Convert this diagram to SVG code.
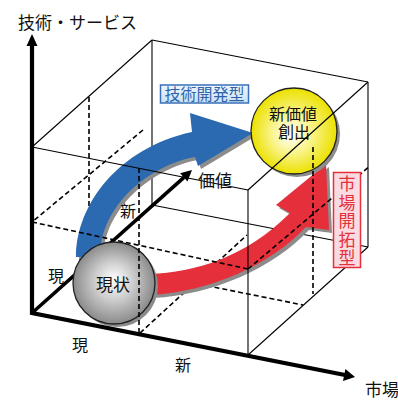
<svg xmlns="http://www.w3.org/2000/svg" width="398" height="400" viewBox="0 0 398 400">
<defs>
<style>
.t{font-family:"Noto Sans CJK JP","Noto Sans CJK SC",sans-serif;fill:#111;}
.ln{stroke:#000;stroke-width:1.1;fill:none;}
.ds{stroke:#000;stroke-width:1.6;fill:none;stroke-dasharray:5 3;}
.sh{fill:#8c8c8c;}
.ol{stroke:#222;stroke-width:1.3;}
</style>
<radialGradient id="gGray" cx="0.5" cy="0.5" r="0.5" fx="0.5" fy="0.45">
<stop offset="0" stop-color="#ffffff"/>
<stop offset="0.45" stop-color="#cfcfcf"/>
<stop offset="1" stop-color="#8a8a8a"/>
</radialGradient>
<radialGradient id="gYel" cx="0.5" cy="0.5" r="0.5" fx="0.45" fy="0.55">
<stop offset="0" stop-color="#ffffff"/>
<stop offset="0.4" stop-color="#fbf69c"/>
<stop offset="1" stop-color="#ebe100"/>
</radialGradient>
<linearGradient id="gBlueBox" x1="0" y1="0" x2="0" y2="1">
<stop offset="0" stop-color="#eef6fd"/>
<stop offset="1" stop-color="#c9e1f6"/>
</linearGradient>
</defs>
<rect width="398" height="400" fill="#ffffff"/>

<g id="box-back">
<line class="ln" x1="32" y1="147" x2="152" y2="40"/>
<line class="ln" x1="152" y1="40" x2="368" y2="82"/>
<line class="ln" x1="152" y1="40" x2="152" y2="205"/>
<line class="ln" x1="368" y1="82" x2="368" y2="247"/>
<line class="ln" x1="152" y1="205" x2="368" y2="247"/>
<line class="ln" x1="248" y1="355" x2="368" y2="247"/>
</g>

<g id="dashes-back">
<line class="ds" x1="89" y1="97" x2="89" y2="262"/>
<line class="ds" x1="143" y1="130" x2="32" y2="222"/>
<line class="ds" x1="140" y1="333" x2="247" y2="235"/>
<line class="ds" x1="89" y1="262" x2="303" y2="305"/>
</g>

<g id="arrow-tech">
<path class="sh" transform="translate(3,3)" d="M76,257 C76,205 118,148 192,132 L190,113 L253,133 L198,166 L195,157 C150,165 100,205 100,257 Z"/>
<path fill="#2b69b1" d="M76,257 C76,205 118,148 192,132 L190,113 L253,133 L198,166 L195,157 C150,165 100,205 100,257 Z"/>
</g>

<g id="arrow-market">
<path class="sh" transform="translate(3,3)" d="M150,274 C195,272 245,258 290,213 L276,205 L326,164 L329,230 L306,227 C270,265 210,292 150,295 Z"/>
<path fill="#e5303b" d="M150,274 C195,272 245,258 290,213 L276,205 L326,164 L329,230 L306,227 C270,265 210,292 150,295 Z"/>
</g>

<g id="axis-value">
<line x1="32" y1="313" x2="184" y2="177.3" stroke="#000" stroke-width="3.6"/>
<polygon points="192,170 187.5,181.4 180.1,173.2" fill="#000"/>
</g>

<g id="node-current">
<circle class="sh" cx="117" cy="286" r="41"/>
<circle class="ol" cx="114" cy="283" r="41" fill="url(#gGray)"/>
<text class="t" x="113" y="291" font-size="17" text-anchor="middle">現状</text>
</g>

<g id="node-new-value">
<circle class="sh" cx="297" cy="134" r="43"/>
<circle class="ol" cx="294" cy="131" r="43" fill="url(#gYel)"/>
<text class="t" font-size="16" text-anchor="middle"><tspan x="293" y="120">新価値</tspan><tspan x="294" y="138">創出</tspan></text>
</g>

<g id="box-front">
<line class="ln" x1="32" y1="147" x2="248" y2="190"/>
<line class="ln" x1="248" y1="190" x2="248" y2="355"/>
<line class="ln" x1="248" y1="190" x2="368" y2="82"/>
</g>

<g id="dashes-front">
<line class="ds" x1="32" y1="222" x2="248" y2="269"/>
<line class="ds" x1="139" y1="168" x2="139" y2="333"/>
<line class="ds" x1="248" y1="269" x2="370" y2="166"/>
<line class="ds" x1="313" y1="147" x2="313" y2="294"/>
</g>

<g id="axes">
<path d="M32,45 L32,313 L345,375" stroke="#000" stroke-width="4.2" fill="none" stroke-linejoin="miter"/>
<polygon points="32,34 26.5,46 37.5,46" fill="#000"/>
<polygon points="355,377 343,381 345.4,369" fill="#000"/>
</g>

<g id="label-tech">
<rect x="160.5" y="85" width="88" height="18" fill="url(#gBlueBox)" stroke="#3a70b8" stroke-width="1.5"/>
<text class="t" x="204.5" y="100" font-size="16" text-anchor="middle" style="fill:#2f63a8">技術開発型</text>
</g>

<g id="label-market">
<rect x="333.5" y="172.5" width="27" height="95" fill="#fadbe2" stroke="#e5303b" stroke-width="1.5"/>
<text class="t" x="347" y="175" font-size="17" writing-mode="vertical-rl" letter-spacing="1.6" style="fill:#e5303b">市場開拓型</text>
</g>

<g id="labels">
<text class="t" x="18" y="29" font-size="17">技術・サービス</text>
<text class="t" x="365" y="396" font-size="17">市場</text>
<text class="t" x="198" y="187" font-size="17">価値</text>
<text class="t" x="120" y="217" font-size="16">新</text>
<text class="t" x="48" y="282" font-size="16">現</text>
<text class="t" x="72" y="351" font-size="16">現</text>
<text class="t" x="175" y="371" font-size="16">新</text>
</g>
</svg>
